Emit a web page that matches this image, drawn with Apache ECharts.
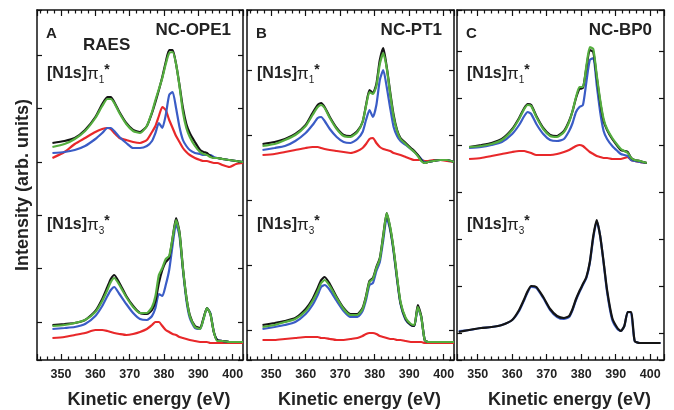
<!DOCTYPE html>
<html>
<head>
<meta charset="utf-8">
<script src="https://cdn.jsdelivr.net/npm/echarts@6/dist/echarts.min.js"></script>
<style>
html, body { margin: 0; padding: 0; background: #fff; }
#chart { width: 674px; height: 410px; }
</style>
</head>
<body>
<div id="chart"></div>
<script>
// kinetic energy grid (eV), shared by every curve
var energy = [344.5, 347.5, 351, 354, 357, 360, 362, 363.5, 364.5, 365.5, 367, 369, 371, 373, 375, 376.5,
  377.5, 378.5, 379.5, 380.5, 381.5, 382.5, 383.5, 384.5, 385.5, 386.5, 387.5, 389, 390.5, 391.5, 392.5,
  393.5, 394.5, 395.5, 397, 399, 401, 403];

// intensity (arb. units, spectra stacked with offset)
// NC-OPE1
var opeUpBlack = [null, 217, 219, 222, 230, 243, 256, 263, 263, 258, 248, 237, 230, 228, 234, 247, 258, 270, 283, 298, 310, 310, 296, 275, 252, 236, 227, 218, 210, 208, 207, 204, 202, 202, 201, 200, 199, 198];
var opeUpGreen = [null, 213, 216, 221, 229, 242, 254, 261, 261, 257, 247, 236, 229, 227, 234, 248, 260, 271, 282, 296, 307, 308, 296, 274, 248, 232, 223, 214, 208, 206, 205, 203, 202, 202, 201, 200, 199, 198];
var opeUpBlue = [null, 207, 208, 210, 214, 221, 227, 232, 232, 229, 223, 217, 212, 212, 214, 219, 227, 237, 232, 245, 265, 268, 252, 233, 220, 214, 210, 207, 206, 205, 205, 205, 203, 202, 201, 200, 199, 198];
var opeUpRed = [null, 202, 208, 216, 222, 228, 231, 232, 231, 227, 222, 220, 218, 217, 220, 228, 234, 244, 253, 250, 240, 232, 224, 218, 212, 208, 205, 202, 200, 199, 199, 198, 197, 197, 195, 193, 196, 197];
var opeLowBlack = [null, 35, 36, 37, 40, 49, 61, 73, 81, 85, 77, 64, 54, 47, 46, 50, 59, 77, 90, 98, 102, 122, 142, 128, 92, 63, 45, 34, 32, 42, 52, 46, 28, 20, 19, 18, 18, 18];
var opeLowGreen = [null, 34, 35, 37, 40, 48, 59, 70, 78, 82, 75, 63, 53, 47, 47, 53, 64, 85, 92, 101, 104, 122, 140, 127, 92, 63, 44, 33, 31, 41, 52, 46, 28, 19, 19, 18, 18, 18];
var opeLowBlue = [null, 31, 32, 33, 36, 44, 54, 64, 70, 73, 66, 56, 47, 41, 40, 44, 52, 66, 64, 75, 90, 115, 136, 124, 90, 60, 42, 32, 31, 41, 52, 47, 28, 20, 19, 18, 18, 18];
var opeLowRed = [null, 22, 23, 25, 27, 30, 30, 29, 28, 27, 26, 25, 26, 28, 31, 35, 38, 38, 34, 30, 28, 26, 25, 23, 22, 21, 20, 19, 18, 18, 18, 17, 17, 17, 17, 17, 17, 17];
// NC-PT1
var ptUpBlack = [null, 216, 218, 221, 226, 235, 247, 255, 257, 253, 243, 232, 225, 224, 229, 238, 255, 270, 267, 276, 300, 312, 293, 268, 245, 230, 222, 217, 212, 209, 205, 200, 197, 198, 199, 200, 200, 198];
var ptUpGreen = [null, 214, 216, 220, 225, 234, 245, 253, 255, 252, 242, 231, 224, 223, 228, 238, 254, 268, 266, 274, 296, 307, 292, 266, 243, 229, 221, 216, 211, 208, 204, 199, 197, 198, 199, 200, 200, 198];
var ptUpBlue = [null, 210, 212, 214, 219, 227, 235, 242, 243, 239, 231, 223, 218, 217, 221, 228, 240, 250, 243, 255, 280, 290, 273, 252, 233, 224, 219, 215, 211, 208, 205, 201, 198, 198, 199, 200, 200, 198];
var ptUpRed = [null, 205, 206, 208, 210, 212, 213, 213, 212, 211, 210, 209, 208, 207, 209, 212, 216, 221, 222, 217, 213, 211, 210, 209, 207, 206, 205, 203, 201, 200, 200, 200, 199, 199, 200, 200, 199, 198];
var ptLowBlack = [null, 35, 37, 39, 42, 51, 61, 72, 80, 83, 76, 63, 52, 46, 46, 52, 64, 79, 82, 93, 102, 125, 147, 132, 110, 82, 57, 41, 35, 34, 55, 44, 20, 18, 18, 18, 18, 18];
var ptLowGreen = [null, 33, 35, 38, 41, 49, 59, 69, 77, 80, 74, 62, 51, 45, 45, 51, 63, 78, 81, 92, 101, 124, 147, 133, 111, 83, 58, 42, 36, 35, 53, 43, 20, 18, 18, 18, 18, 18];
var ptLowBlue = [null, 31, 33, 35, 38, 46, 55, 65, 73, 75, 70, 59, 49, 43, 43, 49, 60, 75, 77, 89, 98, 120, 142, 130, 108, 80, 56, 40, 35, 34, 52, 43, 20, 18, 18, 18, 18, 18];
var ptLowRed = [null, 20, 20, 21, 22, 23, 23, 23, 22, 22, 21, 20, 20, 21, 22, 24, 26, 27, 27, 26, 24, 23, 22, 21, 21, 20, 20, 19, 18, 18, 18, 18, 17, 17, 17, 17, 17, 17];
// NC-BP0
var bpUpBlack = [null, 213, 215, 217, 221, 231, 242, 252, 256, 255, 244, 232, 225, 224, 229, 239, 249, 262, 271, 272, 292, 310, 308, 283, 258, 239, 230, 221, 214, 210, 209, 208, 202, 200, 199, 197, null, null];
var bpUpGreen = [null, 213, 214, 216, 220, 230, 241, 251, 255, 254, 243, 231, 224, 223, 228, 238, 249, 263, 273, 273, 294, 313, 311, 285, 260, 241, 231, 222, 215, 211, 209, 207, 202, 200, 199, 197, null, null];
var bpUpBlue = [null, 212, 213, 215, 218, 226, 235, 244, 248, 246, 236, 226, 220, 219, 221, 229, 237, 248, 253, 255, 278, 300, 302, 275, 248, 229, 221, 214, 209, 206, 205, 204, 200, 199, 198, 197, null, null];
var bpUpRed = [null, 201, 202, 204, 206, 208, 209, 209, 208, 207, 205, 205, 205, 206, 208, 210, 212, 214, 215, 214, 211, 208, 206, 204, 203, 202, 202, 201, 201, 201, 202, 203, 200, 199, 198, 197, null, null];
var bpLowBlack = [28, 30, 32, 33, 35, 40, 50, 61, 69, 74, 73, 63, 51, 44, 42, 44, 51, 61, 69, 76, 83, 98, 124, 140, 124, 98, 70, 42, 32, 29, 34, 48, 48, 19, 17, 17, 17, 17];
var bpLowBlue = [29, 30, 32, 33, 35, 40, 49, 60, 68, 73, 72, 62, 50, 43, 41, 43, 50, 60, 68, 75, 82, 97, 122, 139, 124, 97, 68, 40, 31, 29, 34, 48, 47, 19, 17, 17, 17, 17];

var xTicks = [350, 360, 370, 380, 390, 400];

var BLACK = '#141414', GREEN = '#54ad3e', BLUE = '#3a5cc6', RED = '#e8282a';
var FONT = '"Liberation Sans", Arial, sans-serif';

// yTick: [min, max] of the unlabeled intensity tick axes (1 unit per tick)
var panels = [
  { left: 37, width: 206, xMin: 343, xMax: 403, name: 'NC-OPE1', letter: 'A', yTick: [-0.712, 5.843],
    curves: [[opeUpRed, RED], [opeUpBlue, BLUE], [opeUpBlack, BLACK], [opeUpGreen, GREEN],
             [opeLowRed, RED], [opeLowBlue, BLUE], [opeLowBlack, BLACK], [opeLowGreen, GREEN]] },
  { left: 247, width: 207, xMin: 343, xMax: 403, name: 'NC-PT1', letter: 'B', yTick: [-0.4615, 4.923],
    curves: [[ptUpRed, RED], [ptUpBlue, BLUE], [ptUpBlack, BLACK], [ptUpGreen, GREEN],
             [ptLowRed, RED], [ptLowBlue, BLUE], [ptLowBlack, BLACK], [ptLowGreen, GREEN]] },
  { left: 457, width: 207, xMin: 344, xMax: 404, name: 'NC-BP0', letter: 'C', yTick: [-0.574, 6.87],
    curves: [[bpUpRed, RED], [bpUpBlue, BLUE], [bpUpBlack, BLACK], [bpUpGreen, GREEN],
             [bpLowBlue, BLUE], [bpLowBlack, BLACK]] }
];

var chart = echarts.init(document.getElementById('chart'));

var grid = [], xAxis = [], yAxis = [], series = [], graphic = [];
var lineCol = '#111';

panels.forEach(function (p, i) {
  grid.push({ left: p.left, top: 10, width: p.width, height: 350 });
  var xBase = {
    gridIndex: i, type: 'value', min: p.xMin, max: p.xMax, minInterval: 10, maxInterval: 10,
    axisLine: { show: true, onZero: false, lineStyle: { color: lineCol, width: 1.5 } },
    axisTick: { show: true, inside: true, length: 6, lineStyle: { color: lineCol, width: 1.2 } },
    minorTick: { show: true, splitNumber: 5, length: 3.5, lineStyle: { color: lineCol, width: 1.2 } },
    splitLine: { show: false }
  };
  xAxis.push(Object.assign({}, xBase, {
    position: 'bottom',
    axisLabel: { show: true, showMinLabel: false, showMaxLabel: false, margin: 8, color: '#222',
      fontFamily: FONT, fontWeight: 'bold', fontSize: 12.5,
      formatter: function (v) { return xTicks.indexOf(v) >= 0 ? String(v) : ''; } }
  }));
  xAxis.push(Object.assign({}, xBase, { position: 'top', axisLabel: { show: false } }));

  // data axis (hidden), plus left/right tick axes
  yAxis.push({ gridIndex: i, type: 'value', min: 0, max: 350, show: false });
  var yTick = {
    gridIndex: i, type: 'value', min: p.yTick[0], max: p.yTick[1], minInterval: 1, maxInterval: 1,
    axisLine: { show: true, onZero: false, lineStyle: { color: lineCol, width: 1.5 } },
    axisTick: { show: true, inside: true, length: 5, lineStyle: { color: lineCol, width: 1.2 } },
    axisLabel: { show: false }, splitLine: { show: false }
  };
  yAxis.push(Object.assign({}, yTick, { position: 'left' }));
  yAxis.push(Object.assign({}, yTick, { position: 'right' }));

  p.curves.forEach(function (c) {
    series.push({
      type: 'line', xAxisIndex: 2 * i, yAxisIndex: 3 * i, showSymbol: false, smooth: 0.2,
      silent: true, animation: false,
      lineStyle: { color: c[1], width: 2.2 },
      data: energy.map(function (e, k) { return [e, c[0][k]]; })
    });
  });

  var bold = function (size) { return 'bold ' + size + 'px ' + FONT; };
  graphic.push({ type: 'text', left: p.left + 9, top: 26, style: { text: p.letter, font: bold(15), fill: '#222' } });
  graphic.push({ type: 'text', right: 674 - (p.left + p.width) + 12, top: 22,
    style: { text: p.name, font: bold(17), fill: '#222' } });
  var rich = {
    a: { font: bold(16), fill: '#222', lineHeight: 22, verticalAlign: 'middle' },
    p: { font: '17px ' + FONT, fill: '#222', lineHeight: 22, verticalAlign: 'middle' },
    s: { font: '10px ' + FONT, fill: '#222', lineHeight: 22, verticalAlign: 'bottom' },
    t: { font: bold(14), fill: '#222', lineHeight: 22, verticalAlign: 'top' }
  };
  graphic.push({ type: 'text', left: p.left + 10, top: 63, style: { text: '{a|[N1s]}{p|π}{s|1}{t|*}', rich: rich } });
  graphic.push({ type: 'text', left: p.left + 10, top: 214, style: { text: '{a|[N1s]}{p|π}{s|3}{t|*}', rich: rich } });
  graphic.push({ type: 'text', x: p.left + p.width / 2 + 9, y: 400,
    style: { text: 'Kinetic energy (eV)', font: bold(18), fill: '#222', align: 'center', verticalAlign: 'middle' } });
});

graphic.push({ type: 'text', left: 83, top: 37, style: { text: 'RAES', font: 'bold 17px ' + FONT, fill: '#222' } });
graphic.push({ type: 'text', x: 23, y: 185, rotation: Math.PI / 2,
  style: { text: 'Intensity (arb. units)', font: 'bold 18px ' + FONT, fill: '#222', align: 'center', verticalAlign: 'middle' } });

chart.setOption({
  animation: false,
  grid: grid,
  xAxis: xAxis,
  yAxis: yAxis,
  series: series,
  graphic: graphic
});
</script>
</body>
</html>
